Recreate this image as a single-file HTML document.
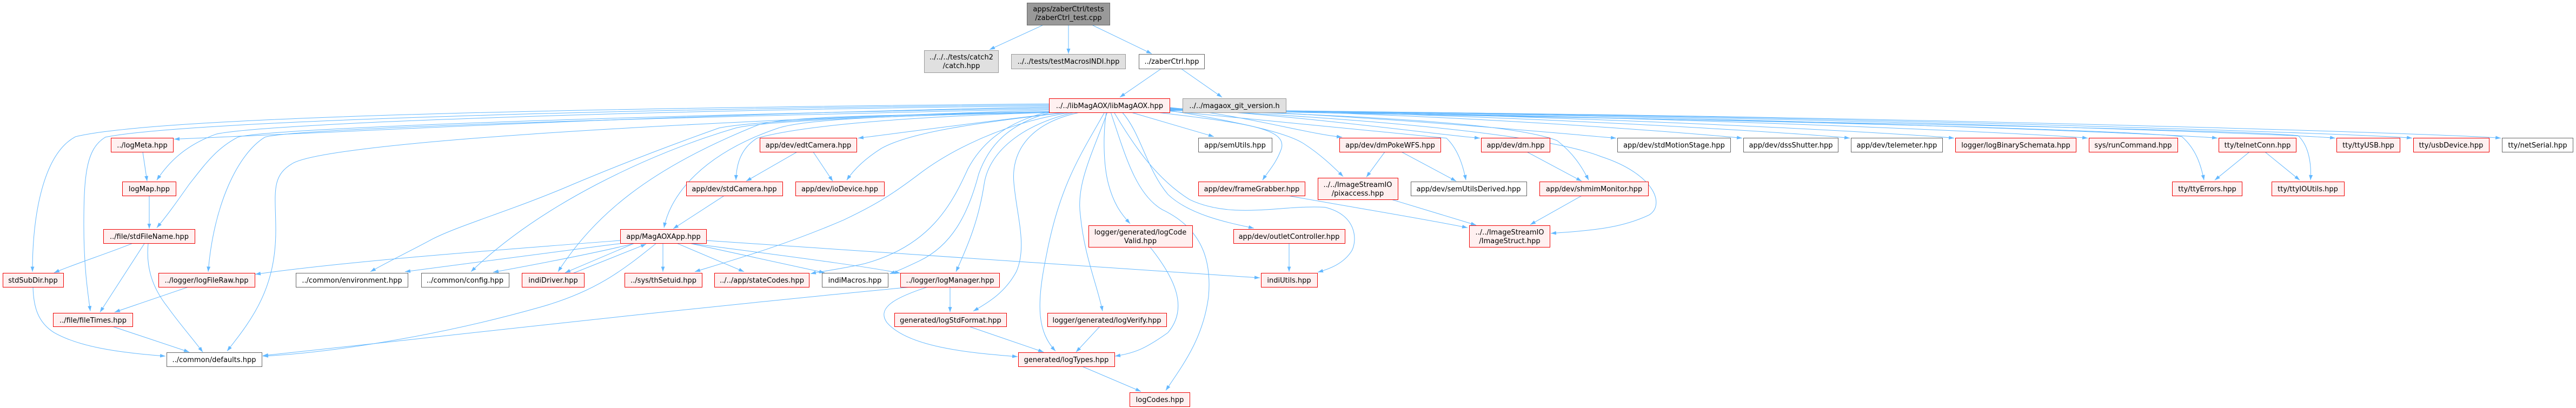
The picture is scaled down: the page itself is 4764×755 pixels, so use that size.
<!DOCTYPE html>
<html><head><meta charset="utf-8"><style>
html,body{margin:0;padding:0;background:#fff;overflow:hidden;}
svg{display:block;}
text{font-family:"DejaVu Sans","Liberation Sans",sans-serif;font-size:13px;fill:#000;text-anchor:middle;}
.e{fill:none;stroke:#63b8ff;stroke-width:1;marker-end:url(#a);vector-effect:non-scaling-stroke;}
.r{fill:#fff0f0;stroke:#f00000;stroke-width:1;}
.g{fill:#fff;stroke:#666;stroke-width:1;}
.l{fill:#e0e0e0;stroke:#999;stroke-width:1;}
.d{fill:#999;stroke:#666;stroke-width:1;}
</style></head><body>
<svg width="4764" height="755" viewBox="0 0 4764 755" xmlns="http://www.w3.org/2000/svg">
<defs><marker id="a" markerWidth="10" markerHeight="7" refX="10" refY="3.5" orient="auto" markerUnits="userSpaceOnUse"><path d="M0,0 L10,3.5 L0,7 z" fill="#63b8ff"/></marker></defs>
<g transform="scale(1,0.9469)">
<path class="e" d="M1931,48 L1830,97"/>
<path class="e" d="M1976,48 L1976,105"/>
<path class="e" d="M2018,48 L2130,105"/>
<path class="e" d="M2148,134 L2071,190"/>
<path class="e" d="M2184,134 L2260,190"/>
<path class="e" d="M1940,203 C1200,210 300,225 140,267 C80,300 60,420 60,531"/>
<path class="e" d="M1940,205 C1200,212 350,235 195,268 C160,290 155,340 155,440 C155,520 162,570 167,608"/>
<path class="e" d="M1940,207 C1200,215 500,240 400,262 C340,285 310,320 290,352"/>
<path class="e" d="M1940,209 C1200,225 700,255 322,272"/>
<path class="e" d="M1940,211 C1200,225 500,250 440,268 C400,290 380,320 350,360 C330,390 310,420 290,445"/>
<path class="e" d="M1940,213 C1200,230 550,250 490,268 C440,300 395,400 385,531"/>
<path class="e" d="M1940,215 C1200,240 600,280 540,320 C500,345 510,380 510,450 C510,560 470,620 420,686"/>
<path class="e" d="M1940,218 C1700,222 1400,235 1330,250 C1250,280 1150,320 1060,360 C950,410 850,440 800,467 C760,490 720,510 685,531"/>
<path class="e" d="M1945,219 C1700,225 1420,235 1361,250 C1200,300 1000,400 871,531"/>
<path class="e" d="M1950,219 C1700,225 1450,225 1400,245 C1200,330 1100,420 1032,531"/>
<path class="e" d="M1960,219 C1700,225 1500,230 1440,250 C1300,300 1240,380 1228,445"/>
<path class="e" d="M1970,219 C1750,225 1500,240 1400,270 C1370,290 1362,320 1361,352"/>
<path class="e" d="M1975,219 C1800,240 1700,255 1587,270"/>
<path class="e" d="M1980,219 C1800,240 1680,260 1630,290 C1600,310 1580,330 1566,352"/>
<path class="e" d="M1985,219 C1850,240 1750,300 1700,340 C1650,380 1620,400 1560,430 C1450,480 1350,510 1285,531"/>
<path class="e" d="M1942,218 C1850,240 1810,290 1790,330 C1760,400 1720,480 1600,515 C1560,525 1520,530 1499,535"/>
<path class="e" d="M1945,219 C1870,240 1830,280 1810,340 C1790,420 1760,480 1700,510 C1680,520 1660,530 1645,535"/>
<path class="e" d="M1990,219 C1900,240 1830,290 1820,360 C1810,430 1790,480 1768,531"/>
<path class="e" d="M2000,219 C1900,240 1870,300 1875,357 C1880,420 1900,480 1880,530 C1860,570 1830,590 1800,608"/>
<path class="e" d="M2043,219 C2000,300 1960,360 1935,500 C1915,600 1920,650 1952,686"/>
<path class="e" d="M2048,219 C2020,300 1990,360 1998,420 C2005,500 2030,560 2039,608"/>
<path class="e" d="M2046,219 C2040,260 2040,320 2050,360 C2060,400 2075,420 2090,437"/>
<path class="e" d="M2054,219 C2080,300 2100,380 2150,410 C2230,450 2240,520 2235,580 C2225,660 2190,710 2156,763"/>
<path class="e" d="M2090,219 L2245,267"/>
<path class="e" d="M2135,219 C2300,240 2380,250 2370,290 C2360,320 2345,335 2335,352"/>
<path class="e" d="M2075,219 C2110,260 2120,330 2160,380 C2200,420 2270,435 2319,446"/>
<path class="e" d="M2060,219 C2100,290 2140,350 2200,390 C2280,430 2370,400 2450,405 C2510,420 2510,470 2500,490 C2485,515 2460,525 2437,532"/>
<path class="e" d="M1306,470 C1600,490 2000,520 2330,543"/>
<path class="e" d="M2384,476 L2384,531"/>
<path class="e" d="M2163,210 C2300,225 2420,262 2482,268"/>
<path class="e" d="M2163,211 C2400,225 2650,262 2737,270"/>
<path class="e" d="M2163,212 C2500,222 2900,262 2989,270"/>
<path class="e" d="M2163,212 C2700,222 3150,262 3222,270"/>
<path class="e" d="M2163,213 C2800,222 3350,262 3421,270"/>
<path class="e" d="M2163,213 C2900,222 3540,262 3614,270"/>
<path class="e" d="M2163,214 C3000,222 3790,262 3861,270"/>
<path class="e" d="M2163,214 C3100,222 4030,262 4101,270"/>
<path class="e" d="M2163,215 C3200,222 4250,262 4319,270"/>
<path class="e" d="M2163,215 C3300,222 4390,262 4461,270"/>
<path class="e" d="M2163,216 C3400,222 4550,262 4625,270"/>
<path class="e" d="M2163,216 C2300,240 2380,260 2410,280 C2440,300 2465,325 2484,345"/>
<path class="e" d="M2163,217 C2400,240 2600,262 2675,270 C2695,290 2705,320 2711,352"/>
<path class="e" d="M2163,214 C2500,225 2800,240 2880,275 C2910,300 2925,325 2938,352"/>
<path class="e" d="M2163,213 C2500,230 2850,260 2961,306 C3060,340 3080,400 3050,420 C3000,445 2950,450 2868,456"/>
<path class="e" d="M2380,382 C2500,405 2620,425 2714,445"/>
<path class="e" d="M2163,213 C3000,230 3900,250 4035,267 C4060,290 4070,320 4076,352"/>
<path class="e" d="M2163,215 C3000,232 4100,250 4250,265 C4270,285 4275,320 4273,352"/>
<path class="e" d="M264,297 L272,354"/>
<path class="e" d="M276,382 L276,447"/>
<path class="e" d="M244,476 C200,495 140,515 100,533"/>
<path class="e" d="M267,476 L185,610"/>
<path class="e" d="M274,476 C270,520 280,560 310,600 C330,630 355,660 375,688"/>
<path class="e" d="M61,561 C62,600 70,630 100,650 C150,680 230,690 306,696"/>
<path class="e" d="M208,638 L350,688"/>
<path class="e" d="M348,561 L212,610"/>
<path class="e" d="M1474,297 L1380,354"/>
<path class="e" d="M1504,297 L1540,354"/>
<path class="e" d="M1340,382 L1245,447"/>
<path class="e" d="M1147,470 C900,490 650,510 472,536"/>
<path class="e" d="M1147,476 C1000,495 850,518 749,531"/>
<path class="e" d="M1172,476 C1100,495 1000,515 912,532"/>
<path class="e" d="M1172,476 L1045,533"/>
<path class="e" d="M1060,534 L1195,477"/>
<path class="e" d="M1213,476 C1150,530 1100,570 1000,600 C800,660 600,690 486,696"/>
<path class="e" d="M1226,476 L1226,531"/>
<path class="e" d="M1253,476 L1376,531"/>
<path class="e" d="M1278,476 L1525,533"/>
<path class="e" d="M1280,476 C1450,500 1600,520 1665,534"/>
<path class="e" d="M1757,561 L1757,610"/>
<path class="e" d="M1715,561 C1660,580 1620,600 1640,630 C1680,680 1800,690 1882,697"/>
<path class="e" d="M1683,561 C1200,610 800,660 486,695"/>
<path class="e" d="M1792,638 L1930,688"/>
<path class="e" d="M2034,638 L1990,688"/>
<path class="e" d="M2127,483 C2170,540 2200,600 2160,650 C2120,680 2100,690 2062,696"/>
<path class="e" d="M2001,716 L2110,765"/>
<path class="e" d="M2561,297 L2527,346"/>
<path class="e" d="M2592,297 L2693,354"/>
<path class="e" d="M2824,297 L2925,354"/>
<path class="e" d="M2926,382 L2830,439"/>
<path class="e" d="M2574,390 L2730,440"/>
<path class="e" d="M4160,297 L4096,352"/>
<path class="e" d="M4189,297 L4253,352"/>
</g>
<g>
<rect class="d" x="1899.5" y="5.5" width="153" height="41"/><text x="1976" y="21">apps/zaberCtrl/tests</text><text x="1976" y="37">/zaberCtrl_test.cpp</text>
<rect class="l" x="1709.5" y="93.5" width="137" height="41"/><text x="1778" y="110">../../../tests/catch2</text><text x="1778" y="126">/catch.hpp</text>
<rect class="l" x="1870.5" y="100.5" width="211" height="27"/><text x="1976" y="118">../../tests/testMacrosINDI.hpp</text>
<rect class="g" x="2106.5" y="100.5" width="121" height="27"/><text x="2167" y="118">../zaberCtrl.hpp</text>
<rect class="r" x="1940.5" y="182.5" width="223" height="26"/><text x="2052" y="200">../../libMagAOX/libMagAOX.hpp</text>
<rect class="l" x="2187.5" y="182.5" width="191" height="26"/><text x="2283" y="200">../../magaox_git_version.h</text>
<rect class="r" x="205.5" y="255.5" width="115" height="26"/><text x="263" y="273">../logMeta.hpp</text>
<rect class="r" x="226.5" y="336.5" width="99" height="26"/><text x="276" y="354">logMap.hpp</text>
<rect class="r" x="191.5" y="424.5" width="169" height="26"/><text x="276" y="442">../file/stdFileName.hpp</text>
<rect class="r" x="5.5" y="505.5" width="112" height="26"/><text x="61" y="523">stdSubDir.hpp</text>
<rect class="r" x="293.5" y="505.5" width="178" height="26"/><text x="382" y="523">../logger/logFileRaw.hpp</text>
<rect class="g" x="547.5" y="505.5" width="207" height="26"/><text x="651" y="523">../common/environment.hpp</text>
<rect class="g" x="779.5" y="505.5" width="162" height="26"/><text x="860" y="523">../common/config.hpp</text>
<rect class="r" x="98.5" y="579.5" width="147" height="25"/><text x="172" y="597">../file/fileTimes.hpp</text>
<rect class="g" x="308.5" y="652.5" width="176" height="26"/><text x="396" y="670">../common/defaults.hpp</text>
<rect class="r" x="1405.5" y="255.5" width="179" height="26"/><text x="1495" y="273">app/dev/edtCamera.hpp</text>
<rect class="r" x="1269.5" y="336.5" width="178" height="26"/><text x="1358" y="354">app/dev/stdCamera.hpp</text>
<rect class="r" x="1471.5" y="336.5" width="164" height="26"/><text x="1553" y="354">app/dev/ioDevice.hpp</text>
<rect class="r" x="1147.5" y="424.5" width="159" height="26"/><text x="1227" y="442">app/MagAOXApp.hpp</text>
<rect class="r" x="965.5" y="505.5" width="115" height="26"/><text x="1023" y="523">indiDriver.hpp</text>
<rect class="r" x="1155.5" y="505.5" width="143" height="26"/><text x="1227" y="523">../sys/thSetuid.hpp</text>
<rect class="r" x="1321.5" y="505.5" width="175" height="26"/><text x="1409" y="523">../../app/stateCodes.hpp</text>
<rect class="g" x="1520.5" y="505.5" width="122" height="26"/><text x="1581" y="523">indiMacros.hpp</text>
<rect class="r" x="1665.5" y="505.5" width="183" height="26"/><text x="1757" y="523">../logger/logManager.hpp</text>
<rect class="r" x="1654.5" y="579.5" width="207" height="25"/><text x="1758" y="597">generated/logStdFormat.hpp</text>
<rect class="r" x="1937.5" y="579.5" width="220" height="25"/><text x="2047" y="597">logger/generated/logVerify.hpp</text>
<rect class="r" x="1883.5" y="652.5" width="178" height="26"/><text x="1972" y="670">generated/logTypes.hpp</text>
<rect class="r" x="2089.5" y="726.5" width="111" height="26"/><text x="2145" y="744">logCodes.hpp</text>
<rect class="r" x="2013.5" y="417.5" width="192" height="40"/><text x="2109" y="434">logger/generated/logCode</text><text x="2109" y="450">Valid.hpp</text>
<rect class="g" x="2216.5" y="255.5" width="136" height="26"/><text x="2284" y="273">app/semUtils.hpp</text>
<rect class="r" x="2216.5" y="336.5" width="197" height="26"/><text x="2315" y="354">app/dev/frameGrabber.hpp</text>
<rect class="r" x="2281.5" y="424.5" width="206" height="26"/><text x="2384" y="442">app/dev/outletController.hpp</text>
<rect class="r" x="2332.5" y="505.5" width="104" height="26"/><text x="2384" y="523">indiUtils.hpp</text>
<rect class="r" x="2477.5" y="255.5" width="187" height="26"/><text x="2571" y="273">app/dev/dmPokeWFS.hpp</text>
<rect class="r" x="2739.5" y="255.5" width="127" height="26"/><text x="2803" y="273">app/dev/dm.hpp</text>
<rect class="g" x="2991.5" y="255.5" width="209" height="26"/><text x="3096" y="273">app/dev/stdMotionStage.hpp</text>
<rect class="r" x="2437.5" y="329.5" width="148" height="40"/><text x="2511" y="346">../../ImageStreamIO</text><text x="2511" y="362">/pixaccess.hpp</text>
<rect class="g" x="2609.5" y="336.5" width="214" height="26"/><text x="2716" y="354">app/dev/semUtilsDerived.hpp</text>
<rect class="r" x="2847.5" y="336.5" width="201" height="26"/><text x="2948" y="354">app/dev/shmimMonitor.hpp</text>
<rect class="r" x="2717.5" y="417.5" width="149" height="40"/><text x="2792" y="434">../../ImageStreamIO</text><text x="2792" y="450">/ImageStruct.hpp</text>
<rect class="g" x="3224.5" y="255.5" width="175" height="26"/><text x="3312" y="273">app/dev/dssShutter.hpp</text>
<rect class="g" x="3423.5" y="255.5" width="169" height="26"/><text x="3508" y="273">app/dev/telemeter.hpp</text>
<rect class="r" x="3616.5" y="255.5" width="223" height="26"/><text x="3728" y="273">logger/logBinarySchemata.hpp</text>
<rect class="r" x="3863.5" y="255.5" width="164" height="26"/><text x="3945" y="273">sys/runCommand.hpp</text>
<rect class="r" x="4103.5" y="255.5" width="143" height="26"/><text x="4175" y="273">tty/telnetConn.hpp</text>
<rect class="r" x="4321.5" y="255.5" width="117" height="26"/><text x="4380" y="273">tty/ttyUSB.hpp</text>
<rect class="r" x="4463.5" y="255.5" width="140" height="26"/><text x="4533" y="273">tty/usbDevice.hpp</text>
<rect class="g" x="4627.5" y="255.5" width="131" height="26"/><text x="4693" y="273">tty/netSerial.hpp</text>
<rect class="r" x="4017.5" y="336.5" width="129" height="26"/><text x="4082" y="354">tty/ttyErrors.hpp</text>
<rect class="r" x="4201.5" y="336.5" width="134" height="26"/><text x="4268" y="354">tty/ttyIOUtils.hpp</text>
</g>
</svg>
</body></html>
